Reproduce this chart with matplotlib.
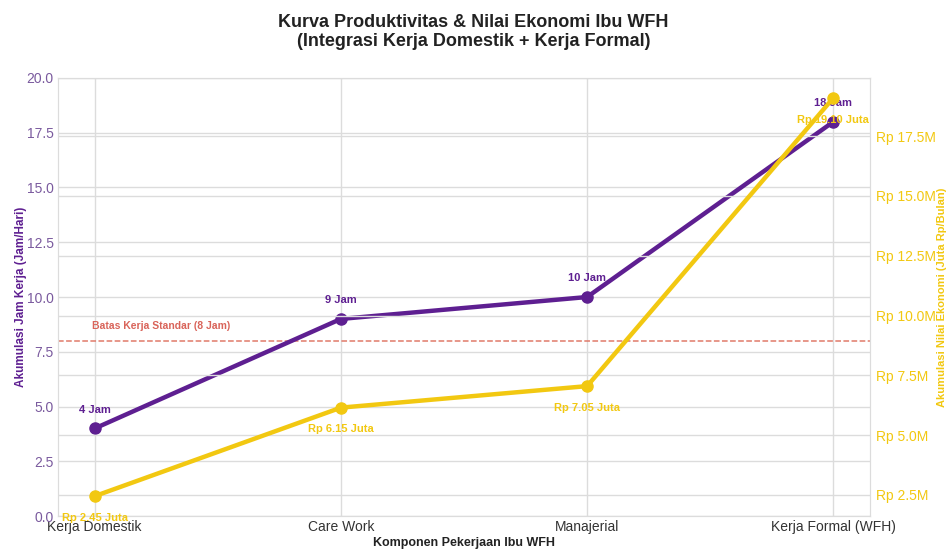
import matplotlib
matplotlib.use("Agg")
import matplotlib.pyplot as plt
from matplotlib.ticker import FuncFormatter

plt.rcParams["font.family"] = ["Liberation Sans", "DejaVu Sans"]

categories = ["Kerja Domestik", "Care Work", "Manajerial", "Kerja Formal (WFH)"]
jam_kumulatif = [4, 9, 10, 18]
nilai_juta = [2.45, 6.15, 7.05, 19.10]
jam_labels = ["4 Jam", "9 Jam", "10 Jam", "18 Jam"]
nilai_labels = ["Rp 2.45 Juta", "Rp 6.15 Juta", "Rp 7.05 Juta", "Rp 19.10 Juta"]
batas_jam = 8

PURPLE = "#5E1F91"
YELLOW = "#F2C811"
GRID = "#dcdcdc"

fig = plt.figure(figsize=(9.47, 5.49), dpi=100)
ax = fig.add_axes([0.061, 0.06, 0.858, 0.798])
ax2 = ax.twinx()

x = list(range(len(categories)))
ax.plot(x, jam_kumulatif, "o-", color=PURPLE, lw=3.2, ms=8, zorder=3)
ax2.plot(x, nilai_juta, "o-", color=YELLOW, lw=3.2, ms=8, zorder=3)

ax.axhline(batas_jam, color="#e07a6a", ls="--", lw=1.1, zorder=1)
ax.text(x[0] - 0.01, batas_jam + 0.45, f"Batas Kerja Standar ({batas_jam} Jam)",
        color="#d9645a", fontsize=7.5, fontweight="bold", va="bottom")

for xi, yi, lab in zip(x, jam_kumulatif, jam_labels):
    ax.annotate(lab, (xi, yi), xytext=(0, 10), textcoords="offset points",
                ha="center", va="bottom", color=PURPLE, fontsize=8, fontweight="bold")
for xi, yi, lab in zip(x, nilai_juta, nilai_labels):
    ax2.annotate(lab, (xi, yi), xytext=(0, -12), textcoords="offset points",
                 ha="center", va="top", color=YELLOW, fontsize=8, fontweight="bold")

ax.set_ylim(0, 20)
ax.set_yticks([0, 2.5, 5, 7.5, 10, 12.5, 15, 17.5, 20])
ax.set_xticks(x)
ax.set_xticklabels(categories, fontsize=10, color="#333333")
ax.tick_params(axis="x", length=0, pad=3)
ax.tick_params(axis="y", labelsize=10, length=0, pad=3)
ax.yaxis.set_major_formatter(FuncFormatter(lambda v, p: f"{v:.1f}"))
for t in ax.get_yticklabels():
    t.set_color("#7a5a9e")

ax2.set_yticks([2.5, 5, 7.5, 10, 12.5, 15, 17.5])
ax2.yaxis.set_major_formatter(FuncFormatter(lambda v, p: f"Rp {v:.1f}M"))
ax2.tick_params(axis="y", colors=YELLOW, labelsize=10, length=0, pad=4)

ax.grid(True, color=GRID, lw=1)
ax2.grid(True, axis="y", color=GRID, lw=1)
ax.set_axisbelow(True)
ax2.set_axisbelow(True)

for a in (ax, ax2):
    for s in a.spines.values():
        s.set_color(GRID)

ax.set_xlabel("Komponen Pekerjaan Ibu WFH", fontsize=9, fontweight="bold",
              color="#222222", labelpad=2)
ax.set_ylabel("Akumulasi Jam Kerja (Jam/Hari)", fontsize=8.5, fontweight="bold",
              color=PURPLE)
ax.yaxis.set_label_coords(-0.038, 0.5)
ax2.set_ylabel("Akumulasi Nilai Ekonomi (Juta Rp/Bulan)", fontsize=8, fontweight="bold",
               color=YELLOW, rotation=90)
ax2.yaxis.set_label_coords(1.082, 0.5)

fig.suptitle("Kurva Produktivitas & Nilai Ekonomi Ibu WFH\n"
             "(Integrasi Kerja Domestik + Kerja Formal)",
             fontsize=13, fontweight="bold", color="#222222", y=0.975)

fig.savefig("out.png", dpi=100)
